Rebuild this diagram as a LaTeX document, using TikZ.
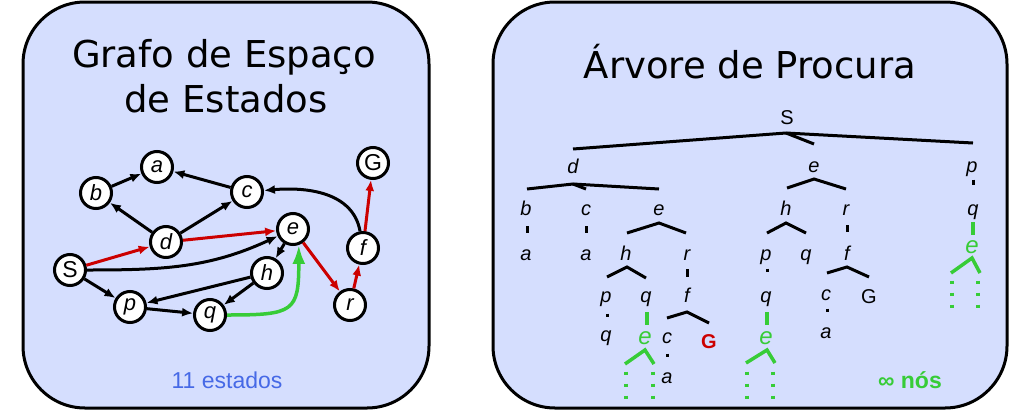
\documentclass[tikz,border=0pt]{standalone}
\usepackage{fontspec}
\setmainfont{Liberation Sans}
\newfontfamily\titlefont{DejaVu Sans}
\usetikzlibrary{arrows.meta}

\definecolor{panelfill}{RGB}{213,222,254}
\definecolor{stepred}{RGB}{204,0,0}
\definecolor{loopgreen}{RGB}{55,204,55}
\definecolor{countblue}{RGB}{70,105,230}

\tikzset{
  panel/.style={draw=black, line width=3pt, fill=panelfill, rounded corners=62pt},
  heading/.style={anchor=base, inner sep=0pt, font=\titlefont\fontsize{37}{37}\selectfont},
  state/.style={circle, draw=black, line width=3pt, fill=white, minimum size=31pt,
    inner sep=0pt, font=\fontsize{22}{22}\selectfont\itshape},
  move/.style={line width=3pt, -{Latex[length=11pt,width=9pt]}},
  tlbl/.style={anchor=base, inner sep=0pt, font=\fontsize{20}{20}\selectfont\itshape},
  branch/.style={line width=3pt},
  loopbranch/.style={line width=3.5pt, loopgreen},
  vdots/.style={line width=3.5pt, loopgreen, dash pattern=on 3.5pt off 8.5pt}
}

\begin{document}
\begin{tikzpicture}[x=1pt, y=-1pt]
\useasboundingbox (0,0) rectangle (1023,410);

% panels
\draw[panel] (23,2) rectangle (429,408);
\draw[panel] (493,2) rectangle (1007,408);
\node[heading] (title-graph) at (224,67) {Grafo de Espaço};
\node[heading] (title-graph2) at (226,112) {de Estados};
\node[heading] (title-tree) at (750,78) {Árvore de Procura};

% state space graph
\node[state] (a) at (157,167) {a};
\node[state] (b) at (96,193) {b};
\node[state] (c) at (247,192) {c};
\node[state] (d) at (166,242) {d};
\node[state] (e) at (293,229) {e};
\node[state] (f) at (363,248) {f};
\node[state, font=\fontsize{23}{23}\selectfont] (G) at (373,163) {G};
\node[state, font=\fontsize{23}{23}\selectfont] (S) at (70,270) {S};
\node[state] (h) at (267,273) {h};
\node[state] (p) at (130,307) {p};
\node[state] (q) at (210,315) {q};
\node[state] (r) at (350,305) {r};

\draw[move] (b) -- (a);
\draw[move] (c) -- (a);
\draw[move] (d) -- (b);
\draw[move] (d) -- (c);
\draw[move] (f) to[out=100,in=5] (c);
\draw[move] (S) to[out=0,in=205] (e);
\draw[move] (e) -- (h);
\draw[move] (h) -- (p);
\draw[move] (h) -- (q);
\draw[move] (S) -- (p);
\draw[move] (p) -- (q);
\draw[move, stepred] (S) -- (d);
\draw[move, stepred] (d) -- (e);
\draw[move, stepred] (e) -- (r);
\draw[move, stepred] (r) -- (f);
\draw[move, stepred] (f) -- (G);
\draw[line width=3.5pt, loopgreen, -{Latex[length=19pt,width=13pt]}] (q) to[out=0,in=-90,looseness=1.7] (e.-70);

\node[anchor=base, text=countblue, font=\fontsize{23}{23}\selectfont] (count) at (227,388) {11 estados};

% search tree
\node[tlbl, font=\fontsize{20}{20}\selectfont] (t0) at (787,124) {S};
\node[tlbl] (t1d) at (573,173) {d};
\node[tlbl] (t1e) at (814,172) {e};
\node[tlbl] (t1p) at (972,172) {p};
\node[tlbl] (t2b) at (526,215) {b};
\node[tlbl] (t2c) at (586,215) {c};
\node[tlbl] (t2e) at (659,215) {e};
\node[tlbl] (t2h) at (786,215) {h};
\node[tlbl] (t2r) at (846,215) {r};
\node[tlbl] (t2q) at (973,215) {q};
\node[tlbl] (t3a) at (526,260) {a};
\node[tlbl] (t3a2) at (586,260) {a};
\node[tlbl] (t3h) at (626,260) {h};
\node[tlbl] (t3r) at (687,260) {r};
\node[tlbl] (t3p) at (766,260) {p};
\node[tlbl] (t3q) at (806,260) {q};
\node[tlbl] (t3f) at (847,260) {f};
\node[tlbl, text=loopgreen, font=\fontsize{24}{24}\selectfont\itshape] (t3e) at (972,253) {e};
\node[tlbl] (t4p) at (606,302) {p};
\node[tlbl] (t4q) at (646,302) {q};
\node[tlbl] (t4f) at (687,302) {f};
\node[tlbl] (t4q2) at (766,302) {q};
\node[tlbl] (t4c) at (826,300) {c};
\node[tlbl, font=\fontsize{20}{20}\selectfont] (t4G) at (869,303) {G};
\node[tlbl] (t5q) at (606,341) {q};
\node[tlbl, text=loopgreen, font=\fontsize{24}{24}\selectfont\itshape] (t5e) at (645,344) {e};
\node[tlbl] (t5c) at (667,343) {c};
\node[tlbl, text=stepred, font=\fontsize{20}{20}\selectfont\bfseries] (t5G) at (709,348) {G};
\node[tlbl, text=loopgreen, font=\fontsize{24}{24}\selectfont\itshape] (t5e2) at (766,344) {e};
\node[tlbl] (t5a) at (826,338) {a};
\node[tlbl] (t6a) at (667,383) {a};

\draw[branch] (573,149) -- (786,133) -- (973,143);
\draw[branch] (786,133) -- (814,144);
\draw[branch] (527,189) -- (573,184) -- (659,189);
\draw[branch] (573,184) -- (586,189);
\draw[branch] (787,188) -- (814,179) -- (846,189);
\draw[branch] (973,179.5) -- (973,185);
\draw[branch] (527,226) -- (527,233);
\draw[branch] (586,226) -- (586,233);
\draw[branch] (627,233) -- (659,223) -- (686,233);
\draw[branch] (767,233) -- (786,223) -- (806,233);
\draw[branch] (847,225) -- (847,232);
\draw[branch] (607,277) -- (627,267) -- (646,278);
\draw[branch] (687,269) -- (687,277);
\draw[branch] (767,268.5) -- (767,271.5);
\draw[branch] (827,273) -- (847,267) -- (869,277);
\draw[branch] (607,313.5) -- (607,316.5);
\draw[branch] (667,318) -- (687,312) -- (709,323);
\draw[branch] (827,308.5) -- (827,311.5);
\draw[branch] (667,353.5) -- (667,356.5);

\draw[loopbranch] (973,222) -- (973,235);
\draw[loopbranch] (951,273) -- (972,258) -- (980,273);
\draw[vdots] (952,280.5) -- (952,308);
\draw[vdots] (978,280.5) -- (978,308);
\draw[loopbranch] (647,312) -- (647,325);
\draw[loopbranch] (625,364) -- (645,350) -- (654,364);
\draw[vdots] (626,371.5) -- (626,399);
\draw[vdots] (653,371.5) -- (653,399);
\draw[loopbranch] (767,312) -- (767,325);
\draw[loopbranch] (746,363) -- (767,350) -- (775,363);
\draw[vdots] (747,371.5) -- (747,399);
\draw[vdots] (773,371.5) -- (773,399);

\node[anchor=base, text=loopgreen, font=\fontsize{23}{23}\selectfont\bfseries] (infinite) at (910,388) {∞ nós};
\end{tikzpicture}
\end{document}
